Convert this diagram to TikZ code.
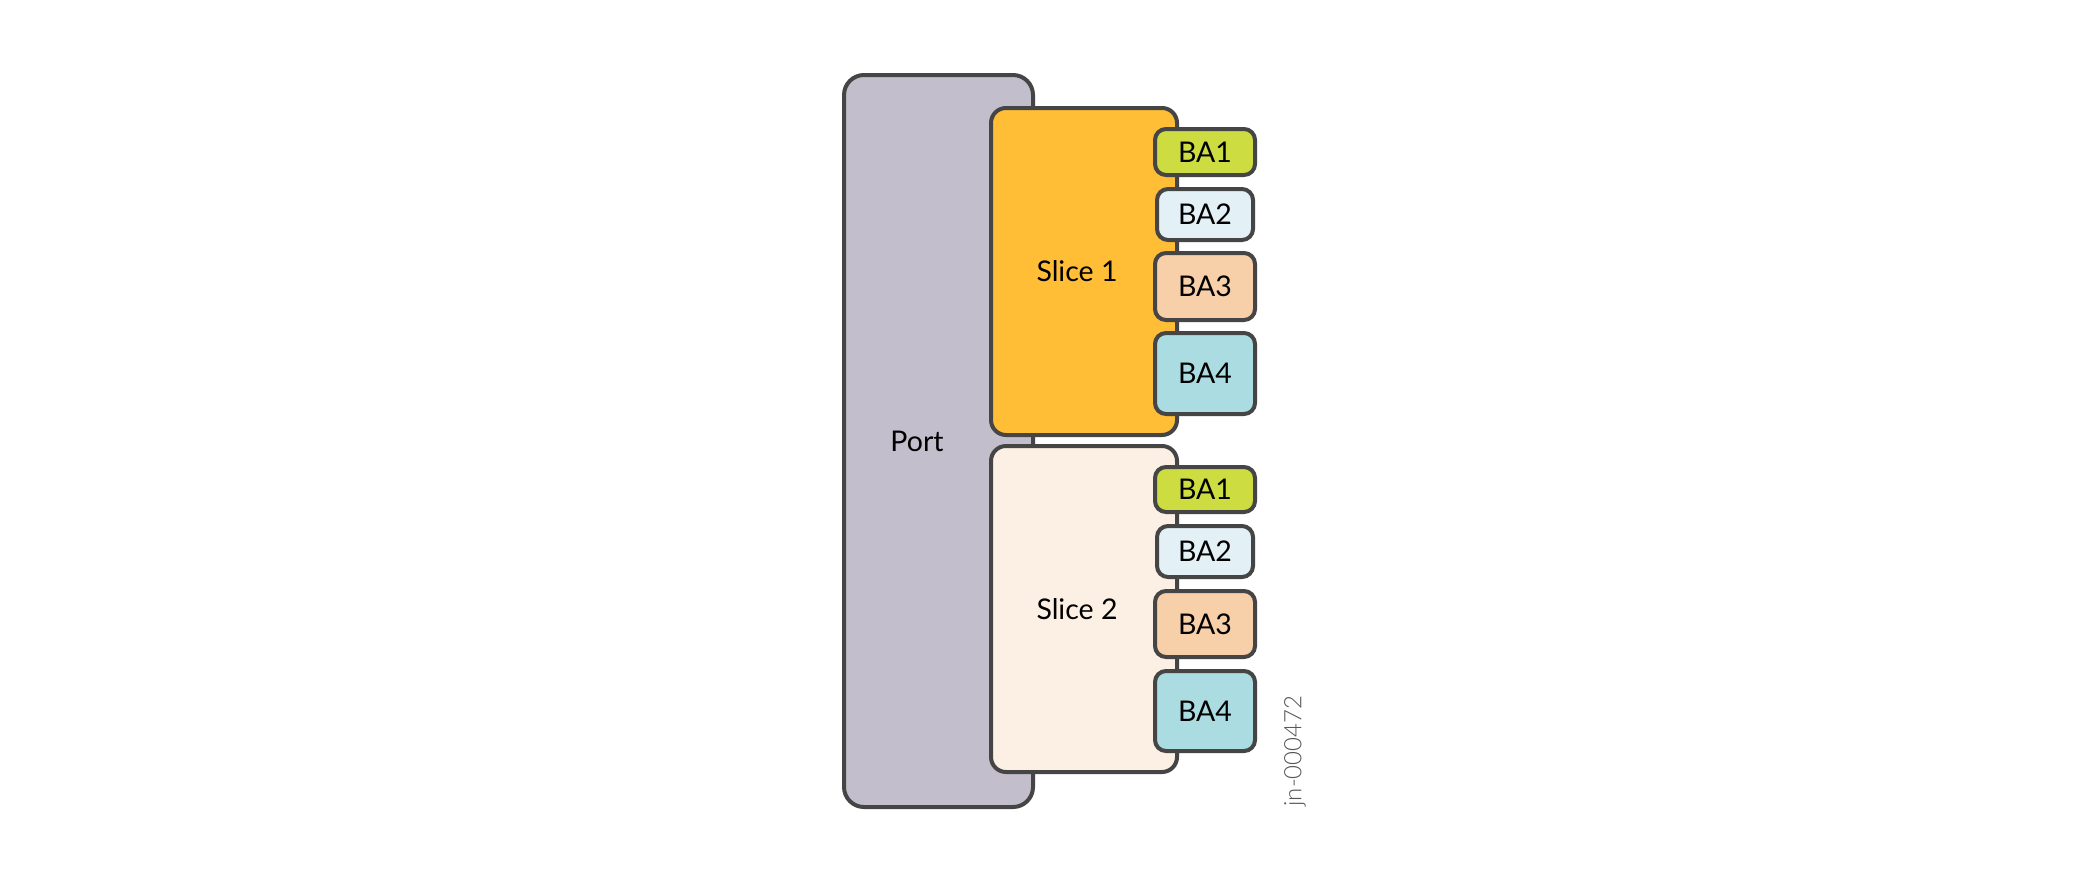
\documentclass[tikz,border=0pt]{standalone}
\usepackage{fontspec}
\setmainfont{Lato}
\newfontfamily\wmfont{Lato Light}
\definecolor{edge}{HTML}{454545}
\definecolor{portfill}{HTML}{C2BECB}
\definecolor{sliceone}{HTML}{FFBE35}
\definecolor{slicetwo}{HTML}{FCF0E4}
\definecolor{baone}{HTML}{CDDC41}
\definecolor{batwo}{HTML}{E3F1F7}
\definecolor{bathree}{HTML}{F7D0AA}
\definecolor{bafour}{HTML}{ABDCE1}
\definecolor{wmgray}{HTML}{555555}
\tikzset{
  box/.style={draw=edge, line width=4pt, rectangle, inner sep=0pt, outer sep=0pt},
  portbox/.style={box, fill=portfill, rounded corners=20pt},
  slicebox/.style={box, rounded corners=15pt},
  babox/.style={box, rounded corners=11pt, minimum width=100pt, font=\fontsize{28.5}{32}\selectfont},
  lbl/.style={inner sep=0pt, font=\fontsize{28.5}{32}\selectfont},
  wm/.style={inner sep=0pt, text=wmgray, rotate=90, font=\wmfont\fontsize{24}{27}\selectfont}
}
\begin{document}
\begin{tikzpicture}[x=1pt,y=-1pt]
\useasboundingbox (0,0) rectangle (2100,884);
\fill[white] (0,0) rectangle (2100,884);
% port
\node[portbox, minimum width=189pt, minimum height=732pt] (port) at (938.5,441) {};
\node[lbl] (portlbl) at (917,441) {Port};
% slices
\node[slicebox, fill=sliceone, minimum width=186pt, minimum height=327pt] (s1) at (1084,271.5) {};
\node[slicebox, fill=slicetwo, minimum width=186pt, minimum height=326pt] (s2) at (1084,609) {};
\node[lbl] (s1lbl) at (1077,271) {Slice 1};
\node[lbl] (s2lbl) at (1077,609) {Slice 2};
% BAs slice 1
\node[babox, fill=baone, minimum height=46pt] (a1) at (1205,152) {BA1};
\node[babox, fill=batwo, minimum width=96pt, minimum height=51pt] (a2) at (1205,214.5) {BA2};
\node[babox, fill=bathree, minimum height=67pt] (a3) at (1205,286.5) {BA3};
\node[babox, fill=bafour, minimum height=81pt] (a4) at (1205,373.5) {BA4};
% BAs slice 2
\node[babox, fill=baone, minimum height=45pt] (b1) at (1205,489.5) {BA1};
\node[babox, fill=batwo, minimum width=96pt, minimum height=51pt] (b2) at (1205,551.5) {BA2};
\node[babox, fill=bathree, minimum height=66pt] (b3) at (1205,624) {BA3};
\node[babox, fill=bafour, minimum height=80pt] (b4) at (1205,711) {BA4};
% watermark
\node[wm] (wmk) at (1295,751) {jn-000472};
\end{tikzpicture}
\end{document}
